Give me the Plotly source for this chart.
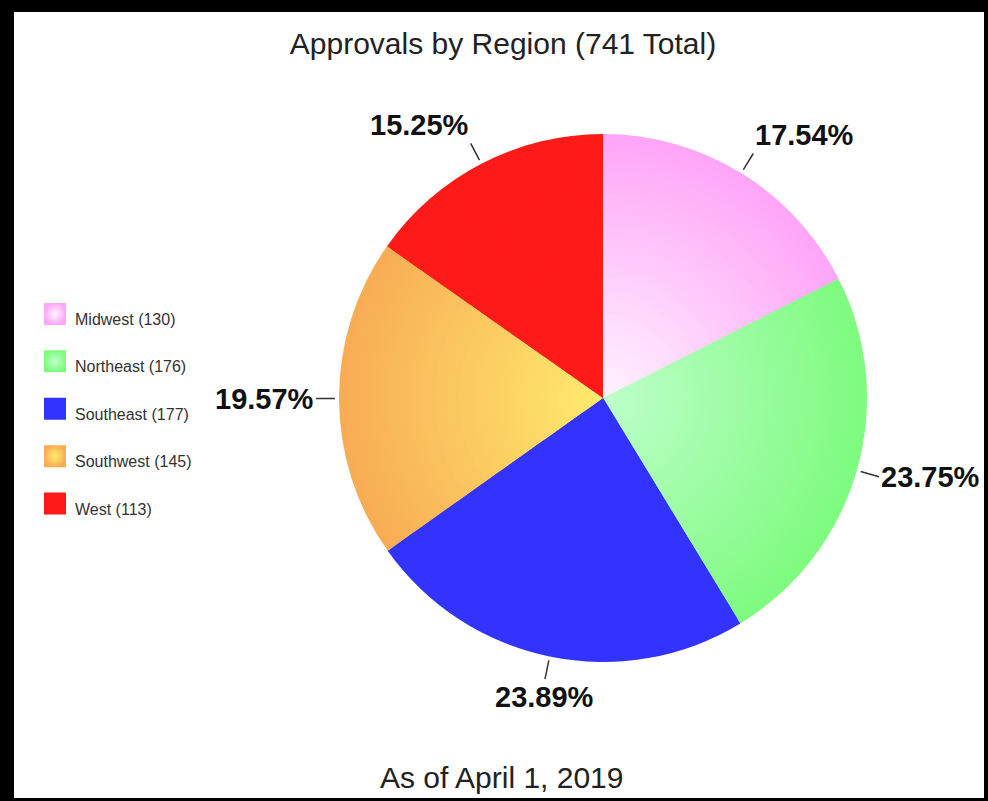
import numpy as np
import plotly.graph_objects as go

# ---------------- data ----------------
regions = ["Midwest", "Northeast", "Southeast", "Southwest", "West"]
approvals = [130, 176, 177, 145, 113]
outer_colors = ["#ffa6f7", "#7ffb80", "#3333ff", "#f8ad55", "#ff1a1a"]
center_colors = ["#fff4ff", "#bfffcc", "#3333ff", "#ffec6e", "#ff1a1a"]
title_text = "Approvals by Region (741 Total)"
footer_text = "As of April 1, 2019"

# ---------------- layout constants ----------------
W, H = 988, 801
CX, CY, R = 603, 398, 264        # pie centre / radius in pixels
N_LAYERS = 44                    # layers used to imitate the radial gradient
GAP, LEN = 4, 19                 # leader-line gap and length (px)
FONT = "Liberation Sans, Arial, Helvetica, sans-serif"

total = sum(approvals)
legend_labels = [f"{r} ({v})" for r, v in zip(regions, approvals)]


def hex2rgb(h):
    h = h.lstrip("#")
    return tuple(int(h[i:i + 2], 16) for i in (0, 2, 4))


def mix(c0, c1, t):
    a, b = hex2rgb(c0), hex2rgb(c1)
    return "rgb({},{},{})".format(*[round(a[i] + (b[i] - a[i]) * t) for i in range(3)])


fig = go.Figure()

# pie drawn as stacked discs to get a radial gradient
for k in range(N_LAYERS):
    frac = 1 - k / N_LAYERS
    r = R * frac
    cols = [mix(c, o, frac) for c, o in zip(center_colors, outer_colors)]
    fig.add_trace(go.Pie(
        labels=regions, values=approvals, sort=False, direction="clockwise",
        rotation=0, marker=dict(colors=cols, line=dict(width=0)),
        textinfo="none", showlegend=False,
        hoverinfo="label+value+percent" if k == 0 else "skip",
        domain=dict(x=[(CX - r) / W, (CX + r) / W],
                    y=[(H - CY - r) / H, (H - CY + r) / H]),
    ))

# percentage labels with leader lines
cum = np.concatenate([[0], np.cumsum(approvals)])
for i, v in enumerate(approvals):
    ang = (cum[i] + v / 2) / total * 2 * np.pi
    s, c = np.sin(ang), np.cos(ang)
    hx = CX + (R + GAP) * s
    hy = CY - (R + GAP) * c
    xanchor = "left" if s > 0.25 else ("right" if s < -0.25 else "center")
    yanchor = "bottom" if c > 0.5 else ("top" if c < -0.5 else "middle")
    fig.add_annotation(
        x=hx / W, y=1 - hy / H, xref="paper", yref="paper",
        text=f"{v / total * 100:.2f}%", showarrow=True, arrowhead=0,
        arrowwidth=1.5, arrowcolor="#333333", ax=LEN * s, ay=-LEN * c,
        xanchor=xanchor, yanchor=yanchor,
        font=dict(family=FONT, size=29, color="#111111", weight="bold"),
    )

# custom legend (large gradient squares)
n = len(regions)
grad_types = ["radial" if c != o else "none" for c, o in zip(center_colors, outer_colors)]
fig.add_trace(go.Scatter(
    x=[55] * n, y=list(range(n)), mode="markers", hoverinfo="skip", showlegend=False,
    marker=dict(symbol="square", size=22, color=outer_colors,
                gradient=dict(type=grad_types, color=center_colors),
                line=dict(width=0)),
))
fig.add_trace(go.Scatter(
    x=[75] * n, y=[i + 0.15 for i in range(n)], mode="text", text=legend_labels,
    textposition="middle right", hoverinfo="skip", showlegend=False,
    textfont=dict(family=FONT, size=16, color="#333333"),
))

fig.add_annotation(
    x=502 / W, y=1 - 777 / H, xref="paper", yref="paper", showarrow=False,
    text=footer_text, xanchor="center", yanchor="middle",
    font=dict(family=FONT, size=30, color="#222222"),
)

fig.update_layout(
    width=W, height=H, margin=dict(l=0, r=0, t=0, b=0),
    paper_bgcolor="black", plot_bgcolor="rgba(0,0,0,0)",
    title=dict(text=title_text, x=503 / W, y=1 - 43 / H, xanchor="center",
               yanchor="middle", font=dict(family=FONT, size=30, color="#222222")),
    xaxis=dict(visible=False, domain=[0, 0.25], range=[0, 0.25 * W], fixedrange=True),
    yaxis=dict(visible=False, domain=[1 - 527.2 / H, 1 - 290.3 / H],
               range=[n - 0.5, -0.5], fixedrange=True),
    shapes=[dict(type="rect", xref="paper", yref="paper", layer="below",
                 x0=14 / W, x1=984 / W, y0=(H - 798) / H, y1=(H - 12) / H,
                 fillcolor="white", line=dict(width=0))],
    showlegend=False,
)

fig.write_html(
    "out.html",
    config={"displayModeBar": False},
    post_script="document.body.style.margin='0px';document.body.style.overflow='hidden';",
)
